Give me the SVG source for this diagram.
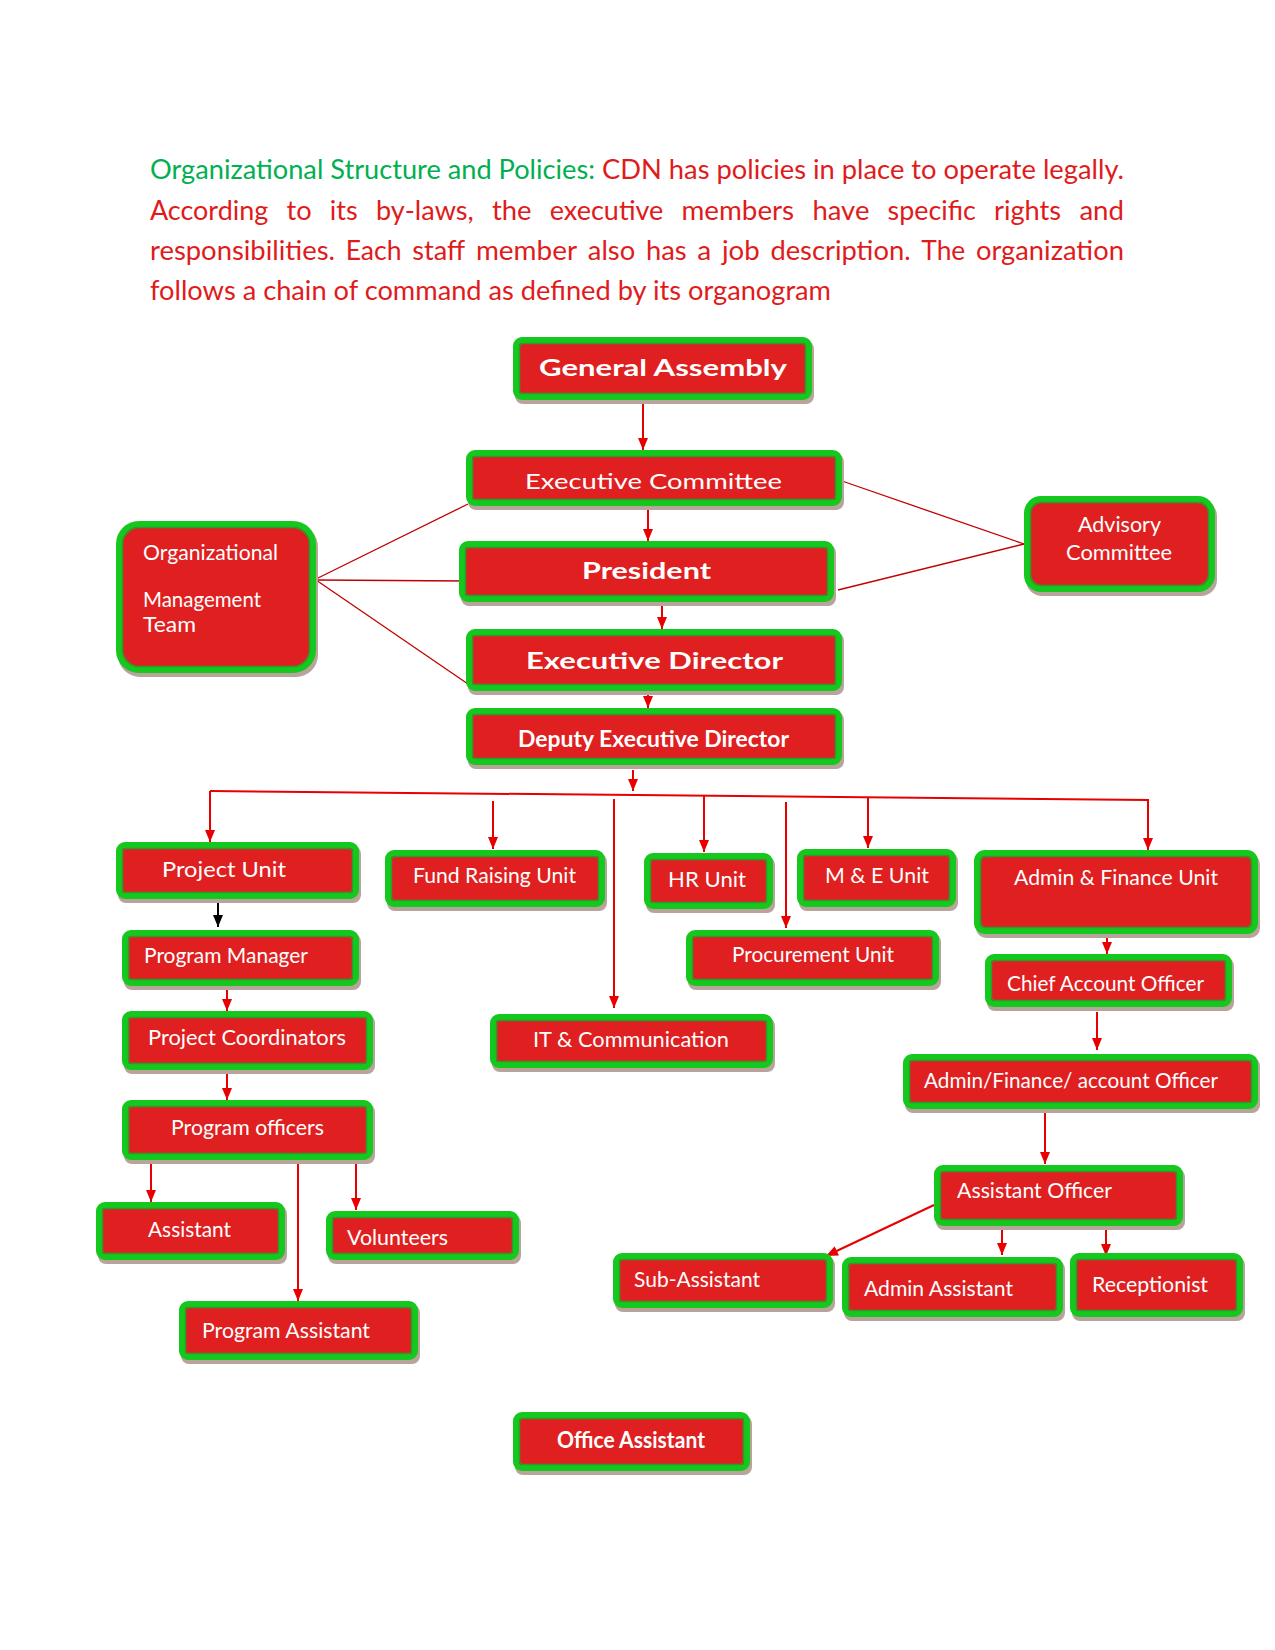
<svg xmlns="http://www.w3.org/2000/svg" width="1275" height="1650" viewBox="0 0 1275 1650">
<style>
.p{font-family:Lato,"Open Sans","Liberation Sans",sans-serif;font-size:26px}
.g{fill:#00B050}
.r{fill:#E01B1B}
.sh{fill:#B9A49C}
.bx{fill:#E02020;stroke:#14C81E;stroke-width:6}
.in{fill:none;stroke:#2C9A2C;stroke-width:1.5}
.t{font-family:Lato,"Open Sans","Liberation Sans",sans-serif;fill:#FFFFFF;font-size:22px}
.b{font-weight:bold}
.c{fill:none;stroke:#E80000;stroke-width:2}
.k{fill:none;stroke:#000000;stroke-width:2}
.th{fill:none;stroke:#C00000;stroke-width:1.3}
</style>
<defs>
<marker id="ar" markerUnits="userSpaceOnUse" markerWidth="12" markerHeight="12" refX="12" refY="5" orient="auto"><path d="M0,0 L12,5 L0,10 z" fill="#E80000"/></marker>
<marker id="ak" markerUnits="userSpaceOnUse" markerWidth="12" markerHeight="12" refX="12" refY="5" orient="auto"><path d="M0,0 L12,5 L0,10 z" fill="#000000"/></marker>
</defs>
<rect width="1275" height="1650" fill="#FFFFFF"/>

<g id="paragraph">
<text class="p g" x="150" y="179" textLength="445" lengthAdjust="spacingAndGlyphs">Organizational Structure and Policies:</text>
<text class="p r" x="602" y="179" textLength="522" lengthAdjust="spacingAndGlyphs">CDN has policies in place to operate legally.</text>
<g class="p r">
<text x="150" y="220" textLength="118.2" lengthAdjust="spacingAndGlyphs">According</text>
<text x="286.5" y="220" textLength="25.1" lengthAdjust="spacingAndGlyphs">to</text>
<text x="329.8" y="220" textLength="27.9" lengthAdjust="spacingAndGlyphs">its</text>
<text x="376" y="220" textLength="97.7" lengthAdjust="spacingAndGlyphs">by-laws,</text>
<text x="491.9" y="220" textLength="39.6" lengthAdjust="spacingAndGlyphs">the</text>
<text x="549.8" y="220" textLength="113.5" lengthAdjust="spacingAndGlyphs">executive</text>
<text x="681.5" y="220" textLength="112.6" lengthAdjust="spacingAndGlyphs">members</text>
<text x="812.4" y="220" textLength="57" lengthAdjust="spacingAndGlyphs">have</text>
<text x="887.6" y="220" textLength="88.2" lengthAdjust="spacingAndGlyphs">specific</text>
<text x="994" y="220" textLength="67.1" lengthAdjust="spacingAndGlyphs">rights</text>
<text x="1079.4" y="220" textLength="44.6" lengthAdjust="spacingAndGlyphs">and</text>
<text x="150" y="260" textLength="185" lengthAdjust="spacingAndGlyphs">responsibilities.</text>
<text x="345.7" y="260" textLength="55.9" lengthAdjust="spacingAndGlyphs">Each</text>
<text x="412.3" y="260" textLength="52.9" lengthAdjust="spacingAndGlyphs">staff</text>
<text x="475.9" y="260" textLength="101.2" lengthAdjust="spacingAndGlyphs">member</text>
<text x="587.8" y="260" textLength="47.4" lengthAdjust="spacingAndGlyphs">also</text>
<text x="645.9" y="260" textLength="40.7" lengthAdjust="spacingAndGlyphs">has</text>
<text x="697.3" y="260" textLength="14" lengthAdjust="spacingAndGlyphs">a</text>
<text x="722" y="260" textLength="37.7" lengthAdjust="spacingAndGlyphs">job</text>
<text x="770.4" y="260" textLength="140.2" lengthAdjust="spacingAndGlyphs">description.</text>
<text x="921.3" y="260" textLength="44" lengthAdjust="spacingAndGlyphs">The</text>
<text x="976" y="260" textLength="147.9" lengthAdjust="spacingAndGlyphs">organization</text>
</g>
<text class="p r" x="150" y="300" textLength="681" lengthAdjust="spacingAndGlyphs">follows a chain of command as defined by its organogram</text>
</g>

<g id="connectors">
<path class="th" d="M316,579 L468,504"/>
<path class="th" d="M316,580 L466,581"/>
<path class="th" d="M316,580 L468,684"/>
<path class="th" d="M842,481 L1024,544"/>
<path class="th" d="M838,590 L1024,544"/>
<path class="c" d="M643,400 V450" marker-end="url(#ar)"/>
<path class="c" d="M648,506 V541" marker-end="url(#ar)"/>
<path class="c" d="M662,602 V629" marker-end="url(#ar)"/>
<path class="c" d="M648,691 V708" marker-end="url(#ar)"/>
<path class="c" d="M633,770 V791" marker-end="url(#ar)"/>
<path class="c" d="M210,791 L1148,800 V850" marker-end="url(#ar)"/>
<path class="c" d="M210,791 V842" marker-end="url(#ar)"/>
<path class="c" d="M493,801 V849" marker-end="url(#ar)"/>
<path class="c" d="M614,799 V1008" marker-end="url(#ar)"/>
<path class="c" d="M704,796 V852" marker-end="url(#ar)"/>
<path class="c" d="M786,802 V928" marker-end="url(#ar)"/>
<path class="c" d="M868,797 V848" marker-end="url(#ar)"/>
<path class="k" d="M218,899 V927" marker-end="url(#ak)"/>
<path class="c" d="M227,986 V1011" marker-end="url(#ar)"/>
<path class="c" d="M227,1070 V1100" marker-end="url(#ar)"/>
<path class="c" d="M151,1157 V1202" marker-end="url(#ar)"/>
<path class="c" d="M298,1162 V1301" marker-end="url(#ar)"/>
<path class="c" d="M356,1157 V1210" marker-end="url(#ar)"/>
<path class="c" d="M1107,934 V954" marker-end="url(#ar)"/>
<path class="c" d="M1097,1012 V1050" marker-end="url(#ar)"/>
<path class="c" d="M1045,1112 V1164" marker-end="url(#ar)"/>
<path class="c" d="M934,1205 L826,1256" marker-end="url(#ar)"/>
<path class="c" d="M1002,1222 V1255" marker-end="url(#ar)"/>
<path class="c" d="M1106,1226 V1256" marker-end="url(#ar)"/>
</g>

<g id="n-general-assembly"><rect class="sh" x="515" y="341" width="299" height="63" rx="8"/><rect class="bx" x="516" y="340" width="293" height="57" rx="6"/><rect class="in" x="519.5" y="343.5" width="286" height="50" rx="4"/><text class="t b" x="539" y="376" font-size="27" textLength="248" lengthAdjust="spacingAndGlyphs">General Assembly</text></g>
<g id="n-executive-committee"><rect class="sh" x="468" y="454" width="376" height="56" rx="8"/><rect class="bx" x="469" y="453" width="370" height="50" rx="6"/><rect class="in" x="472.5" y="456.5" width="363" height="43" rx="4"/><text class="t" x="525" y="489" font-size="26" textLength="257" lengthAdjust="spacingAndGlyphs">Executive Committee</text></g>
<g id="n-president"><rect class="sh" x="461" y="545" width="375" height="61" rx="8"/><rect class="bx" x="462" y="544" width="369" height="55" rx="6"/><rect class="in" x="465.5" y="547.5" width="362" height="48" rx="4"/><text class="t b" x="582" y="579" font-size="27" textLength="129" lengthAdjust="spacingAndGlyphs">President</text></g>
<g id="n-executive-director"><rect class="sh" x="468" y="633" width="376" height="62" rx="8"/><rect class="bx" x="469" y="632" width="370" height="56" rx="6"/><rect class="in" x="472.5" y="635.5" width="363" height="49" rx="4"/><text class="t b" x="526" y="669" font-size="27" textLength="257" lengthAdjust="spacingAndGlyphs">Executive Director</text></g>
<g id="n-deputy-executive-director"><rect class="sh" x="468" y="712" width="376" height="57" rx="8"/><rect class="bx" x="469" y="711" width="370" height="51" rx="6"/><rect class="in" x="472.5" y="714.5" width="363" height="44" rx="4"/><text class="t b" x="518" y="747" font-size="21" textLength="271" lengthAdjust="spacingAndGlyphs">Deputy Executive Director</text></g>
<g id="n-organizational-management-team"><rect class="sh" x="118" y="525" width="200" height="152" rx="22"/><rect class="bx" x="119" y="524" width="194" height="146" rx="20"/><rect class="in" x="122.5" y="527.5" width="187" height="139" rx="17"/><text class="t" x="143" y="560" textLength="135" lengthAdjust="spacingAndGlyphs">Organizational</text><text class="t" x="143" y="607" textLength="118" lengthAdjust="spacingAndGlyphs">Management</text><text class="t" x="143" y="632" textLength="53" lengthAdjust="spacingAndGlyphs">Team</text></g>
<g id="n-advisory-committee"><rect class="sh" x="1026" y="500" width="191" height="96" rx="16"/><rect class="bx" x="1027" y="499" width="185" height="90" rx="14"/><rect class="in" x="1030.5" y="502.5" width="178" height="83" rx="11"/><text class="t" x="1078" y="532" textLength="83" lengthAdjust="spacingAndGlyphs">Advisory</text><text class="t" x="1066" y="560" textLength="106" lengthAdjust="spacingAndGlyphs">Committee</text></g>
<g id="n-project-unit"><rect class="sh" x="118" y="846" width="243" height="57" rx="8"/><rect class="bx" x="119" y="845" width="237" height="51" rx="6"/><rect class="in" x="122.5" y="848.5" width="230" height="44" rx="4"/><text class="t" x="162" y="877" font-size="23" textLength="124" lengthAdjust="spacingAndGlyphs">Project Unit</text></g>
<g id="n-fund-raising-unit"><rect class="sh" x="387" y="854" width="220" height="57" rx="8"/><rect class="bx" x="388" y="853" width="214" height="51" rx="6"/><rect class="in" x="391.5" y="856.5" width="207" height="44" rx="4"/><text class="t" x="413" y="883" textLength="163" lengthAdjust="spacingAndGlyphs">Fund Raising Unit</text></g>
<g id="n-hr-unit"><rect class="sh" x="646" y="857" width="129" height="56" rx="8"/><rect class="bx" x="647" y="856" width="123" height="50" rx="6"/><rect class="in" x="650.5" y="859.5" width="116" height="43" rx="4"/><text class="t" x="668" y="887" textLength="78" lengthAdjust="spacingAndGlyphs">HR Unit</text></g>
<g id="n-me-unit"><rect class="sh" x="799" y="853" width="159" height="58" rx="8"/><rect class="bx" x="800" y="852" width="153" height="52" rx="6"/><rect class="in" x="803.5" y="855.5" width="146" height="45" rx="4"/><text class="t" x="825" y="883" textLength="104" lengthAdjust="spacingAndGlyphs">M &amp; E Unit</text></g>
<g id="n-admin-finance-unit"><rect class="sh" x="976" y="854" width="284" height="84" rx="10"/><rect class="bx" x="977" y="853" width="278" height="78" rx="8"/><rect class="in" x="980.5" y="856.5" width="271" height="71" rx="6"/><text class="t" x="1014" y="885" textLength="204" lengthAdjust="spacingAndGlyphs">Admin &amp; Finance Unit</text></g>
<g id="n-program-manager"><rect class="sh" x="124" y="934" width="237" height="56" rx="8"/><rect class="bx" x="125" y="933" width="231" height="50" rx="6"/><rect class="in" x="128.5" y="936.5" width="224" height="43" rx="4"/><text class="t" x="144" y="963" textLength="164" lengthAdjust="spacingAndGlyphs">Program Manager</text></g>
<g id="n-procurement-unit"><rect class="sh" x="688" y="934" width="253" height="56" rx="8"/><rect class="bx" x="689" y="933" width="247" height="50" rx="6"/><rect class="in" x="692.5" y="936.5" width="240" height="43" rx="4"/><text class="t" x="732" y="962" textLength="162" lengthAdjust="spacingAndGlyphs">Procurement Unit</text></g>
<g id="n-chief-account-officer"><rect class="sh" x="987" y="958" width="247" height="53" rx="8"/><rect class="bx" x="988" y="957" width="241" height="47" rx="6"/><rect class="in" x="991.5" y="960.5" width="234" height="40" rx="4"/><text class="t" x="1007" y="991" textLength="197" lengthAdjust="spacingAndGlyphs">Chief Account Officer</text></g>
<g id="n-project-coordinators"><rect class="sh" x="124" y="1015" width="251" height="59" rx="8"/><rect class="bx" x="125" y="1014" width="245" height="53" rx="6"/><rect class="in" x="128.5" y="1017.5" width="238" height="46" rx="4"/><text class="t" x="148" y="1045" textLength="198" lengthAdjust="spacingAndGlyphs">Project Coordinators</text></g>
<g id="n-it-communication"><rect class="sh" x="492" y="1018" width="283" height="54" rx="8"/><rect class="bx" x="493" y="1017" width="277" height="48" rx="6"/><rect class="in" x="496.5" y="1020.5" width="270" height="41" rx="4"/><text class="t" x="533" y="1047" textLength="196" lengthAdjust="spacingAndGlyphs">IT &amp; Communication</text></g>
<g id="n-admin-finance-account-officer"><rect class="sh" x="905" y="1058" width="355" height="55" rx="8"/><rect class="bx" x="906" y="1057" width="349" height="49" rx="6"/><rect class="in" x="909.5" y="1060.5" width="342" height="42" rx="4"/><text class="t" x="924" y="1088" textLength="294" lengthAdjust="spacingAndGlyphs">Admin/Finance/ account Officer</text></g>
<g id="n-program-officers"><rect class="sh" x="124" y="1104" width="251" height="60" rx="8"/><rect class="bx" x="125" y="1103" width="245" height="54" rx="6"/><rect class="in" x="128.5" y="1106.5" width="238" height="47" rx="4"/><text class="t" x="171" y="1135" textLength="153" lengthAdjust="spacingAndGlyphs">Program officers</text></g>
<g id="n-assistant-officer"><rect class="sh" x="936" y="1169" width="249" height="61" rx="8"/><rect class="bx" x="937" y="1168" width="243" height="55" rx="6"/><rect class="in" x="940.5" y="1171.5" width="236" height="48" rx="4"/><text class="t" x="957" y="1198" textLength="155" lengthAdjust="spacingAndGlyphs">Assistant Officer</text></g>
<g id="n-assistant"><rect class="sh" x="98" y="1206" width="189" height="58" rx="8"/><rect class="bx" x="99" y="1205" width="183" height="52" rx="6"/><rect class="in" x="102.5" y="1208.5" width="176" height="45" rx="4"/><text class="t" x="148" y="1237" textLength="83" lengthAdjust="spacingAndGlyphs">Assistant</text></g>
<g id="n-volunteers"><rect class="sh" x="328" y="1215" width="193" height="49" rx="8"/><rect class="bx" x="329" y="1214" width="187" height="43" rx="6"/><rect class="in" x="332.5" y="1217.5" width="180" height="36" rx="4"/><text class="t" x="347" y="1245" textLength="101" lengthAdjust="spacingAndGlyphs">Volunteers</text></g>
<g id="n-sub-assistant"><rect class="sh" x="615" y="1257" width="220" height="55" rx="8"/><rect class="bx" x="616" y="1256" width="214" height="49" rx="6"/><rect class="in" x="619.5" y="1259.5" width="207" height="42" rx="4"/><text class="t" x="634" y="1287" textLength="126" lengthAdjust="spacingAndGlyphs">Sub-Assistant</text></g>
<g id="n-admin-assistant"><rect class="sh" x="844" y="1261" width="221" height="60" rx="8"/><rect class="bx" x="845" y="1260" width="215" height="54" rx="6"/><rect class="in" x="848.5" y="1263.5" width="208" height="47" rx="4"/><text class="t" x="864" y="1296" textLength="149" lengthAdjust="spacingAndGlyphs">Admin Assistant</text></g>
<g id="n-receptionist"><rect class="sh" x="1072" y="1257" width="173" height="64" rx="8"/><rect class="bx" x="1073" y="1256" width="167" height="58" rx="6"/><rect class="in" x="1076.5" y="1259.5" width="160" height="51" rx="4"/><text class="t" x="1092" y="1292" textLength="116" lengthAdjust="spacingAndGlyphs">Receptionist</text></g>
<g id="n-program-assistant"><rect class="sh" x="181" y="1305" width="239" height="59" rx="8"/><rect class="bx" x="182" y="1304" width="233" height="53" rx="6"/><rect class="in" x="185.5" y="1307.5" width="226" height="46" rx="4"/><text class="t" x="202" y="1338" textLength="168" lengthAdjust="spacingAndGlyphs">Program Assistant</text></g>
<g id="n-office-assistant"><rect class="sh" x="515" y="1416" width="237" height="59" rx="8"/><rect class="bx" x="516" y="1415" width="231" height="53" rx="6"/><rect class="in" x="519.5" y="1418.5" width="224" height="46" rx="4"/><text class="t b" x="557" y="1448" font-size="21" textLength="148" lengthAdjust="spacingAndGlyphs">Office Assistant</text></g>
</svg>
